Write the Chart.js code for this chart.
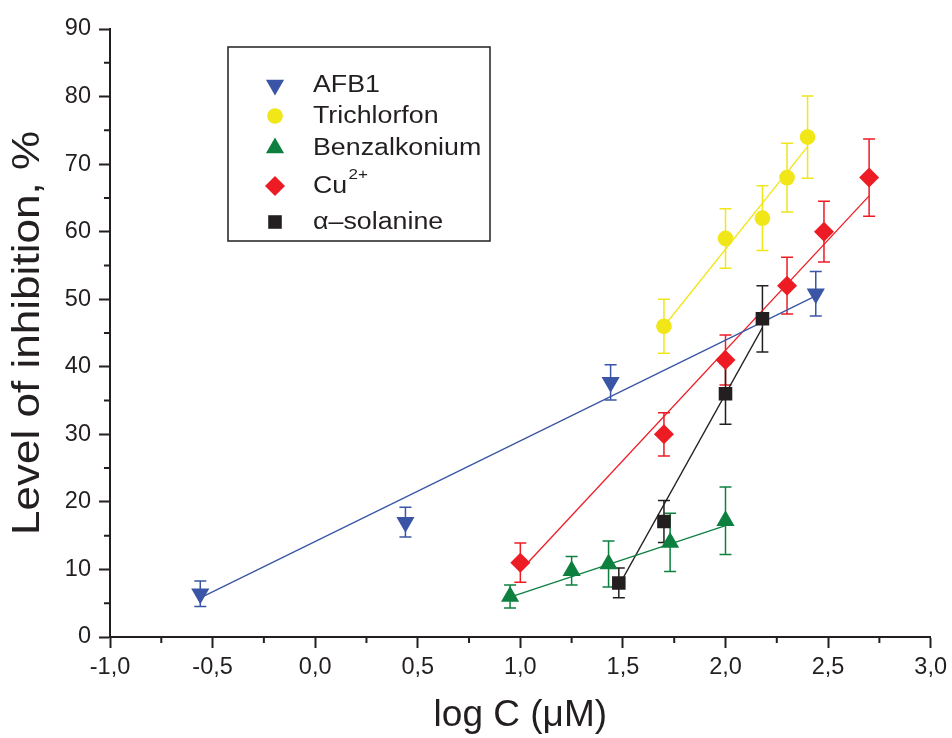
<!DOCTYPE html>
<html>
<head>
<meta charset="utf-8">
<script src="https://cdn.jsdelivr.net/npm/chart.js@4.4.1/dist/chart.umd.min.js"></script>
<style>
  html, body { margin: 0; padding: 0; background: #fff; }
  #wrap { width: 952px; height: 738px; }
</style>
</head>
<body>
<div id="wrap"><canvas id="chart" width="952" height="738"></canvas></div>
<script>
// values: log C (x), inhibition % (y), error (+/-), fit line ends
const afbX = [-0.56, 0.44, 1.44, 2.44];
const afbY = [6.4, 17, 37.7, 50.8];
const afbErr = [1.9, 2.2, 2.6, 3.3];
const afbFit = [5.8, 50.5];

const trichX = [1.70, 2.0, 2.18, 2.30, 2.40];
const trichY = [46, 59, 62, 68, 74];
const trichErr = [4.0, 4.4, 4.8, 5.1, 6.1];
const trichFit = [46.0, 72.6];

const benzX = [0.95, 1.25, 1.43, 1.73, 2.0];
const benzY = [6, 9.8, 10.8, 14, 17.2];
const benzErr = [1.7, 2.1, 3.4, 4.3, 5.0];
const benzFit = [5.9, 16.5];

const cuX = [1.0, 1.70, 2.0, 2.30, 2.48, 2.70];
const cuY = [11, 30, 41, 52, 60, 68];
const cuErr = [2.9, 3.2, 3.7, 4.2, 4.5, 5.7];
const cuFit = [9.8, 65.3];

const solX = [1.48, 1.70, 2.0, 2.18];
const solY = [8, 17.1, 36, 47.1];
const solErr = [2.2, 3.1, 4.5, 4.9];
const solFit = [7.6, 45.8];

const xTicks = [-1, -0.5, 0, 0.5, 1, 1.5, 2, 2.5, 3];
const yTicks = [0, 10, 20, 30, 40, 50, 60, 70, 80, 90];

const xTitle = 'log C (μM)';
const yTitle = 'Level of inhibition, %';

const FONT = "'Liberation Sans', Arial, sans-serif";
const INK = '#231f20';

const series = [
  { label: 'AFB1', x: afbX, y: afbY, err: afbErr, fit: afbFit, color: '#3a55a5', style: 'triangle', rot: 180, r: 10.5 },
  { label: 'Trichlorfon', x: trichX, y: trichY, err: trichErr, fit: trichFit, color: '#f0e618', style: 'circle', rot: 0, r: 7.8 },
  { label: 'Benzalkonium', x: benzX, y: benzY, err: benzErr, fit: benzFit, color: '#0d8040', style: 'triangle', rot: 0, r: 10.5 },
  { label: 'Cu', sup: '2+', x: cuX, y: cuY, err: cuErr, fit: cuFit, color: '#ed1c24', style: 'rectRot', rot: 0, r: 10 },
  { label: 'α–solanine', x: solX, y: solY, err: solErr, fit: solFit, color: INK, style: 'rect', rot: 0, r: 9.6 }
];

const datasets = [];
series.forEach(s => {
  datasets.push({
    label: s.label + ' fit',
    data: [{ x: s.x[0], y: s.fit[0] }, { x: s.x[s.x.length - 1], y: s.fit[1] }],
    showLine: true,
    borderColor: s.color,
    borderWidth: 1.3,
    pointRadius: 0,
    order: 2
  });
  datasets.push({
    label: s.label,
    data: s.x.map((v, i) => ({ x: v, y: s.y[i] })),
    showLine: false,
    pointStyle: s.style,
    pointRotation: s.rot,
    pointRadius: s.r,
    pointBackgroundColor: s.color,
    pointBorderWidth: 0,
    order: 1
  });
});

const errorBars = {
  id: 'errorBars',
  beforeDatasetsDraw(chart) {
    const { ctx, scales: { x, y } } = chart;
    ctx.save();
    ctx.lineWidth = 1.5;
    series.forEach(s => {
      ctx.strokeStyle = s.color;
      s.x.forEach((xv, i) => {
        const px = x.getPixelForValue(xv);
        const top = y.getPixelForValue(s.y[i] + s.err[i]);
        const bot = y.getPixelForValue(s.y[i] - s.err[i]);
        ctx.beginPath();
        ctx.moveTo(px, top); ctx.lineTo(px, bot);
        ctx.moveTo(px - 6, top); ctx.lineTo(px + 6, top);
        ctx.moveTo(px - 6, bot); ctx.lineTo(px + 6, bot);
        ctx.stroke();
      });
    });
    ctx.restore();
  }
};

// short ticks half way between the labelled ones
const minorTicks = {
  id: 'minorTicks',
  afterDraw(chart) {
    const { ctx, scales: { x, y }, chartArea } = chart;
    ctx.save();
    ctx.strokeStyle = INK;
    ctx.lineWidth = 2;
    ctx.beginPath();
    for (let i = 0; i < xTicks.length - 1; i++) {
      const px = x.getPixelForValue((xTicks[i] + xTicks[i + 1]) / 2);
      ctx.moveTo(px, chartArea.bottom); ctx.lineTo(px, chartArea.bottom + 6);
    }
    for (let i = 0; i < yTicks.length - 1; i++) {
      const py = y.getPixelForValue((yTicks[i] + yTicks[i + 1]) / 2);
      ctx.moveTo(chartArea.left, py); ctx.lineTo(chartArea.left - 6, py);
    }
    ctx.stroke();
    ctx.restore();
  }
};

// the y title in the figure is drawn a bit wider along its reading direction
const yAxisTitle = {
  id: 'yAxisTitle',
  afterDraw(chart) {
    const { ctx, chartArea } = chart;
    ctx.save();
    ctx.translate(28, (chartArea.top + chartArea.bottom) / 2);
    ctx.rotate(-Math.PI / 2);
    ctx.scale(1.13, 1);
    ctx.fillStyle = INK;
    ctx.font = '39px ' + FONT;
    ctx.textAlign = 'center';
    ctx.textBaseline = 'middle';
    ctx.fillText(yTitle, 0, 0);
    ctx.restore();
  }
};

const boxLegend = {
  id: 'boxLegend',
  afterDraw(chart) {
    const ctx = chart.ctx;
    const rows = [85, 116, 148, 186, 222];
    ctx.save();
    ctx.strokeStyle = INK;
    ctx.lineWidth = 1.5;
    ctx.strokeRect(228, 47, 262, 194);
    series.forEach((s, i) => {
      ctx.fillStyle = s.color;
      Chart.helpers.drawPoint(ctx, { pointStyle: s.style, rotation: s.rot, radius: s.r, borderWidth: 0 }, 275, rows[i]);
      ctx.save();
      ctx.translate(313, rows[i]);
      ctx.scale(1.14, 1);
      ctx.fillStyle = INK;
      ctx.font = '23.5px ' + FONT;
      ctx.textBaseline = 'middle';
      ctx.textAlign = 'left';
      ctx.fillText(s.label, 0, 1);
      if (s.sup) {
        const w = ctx.measureText(s.label).width;
        ctx.font = '15px ' + FONT;
        ctx.fillText(s.sup, w + 1, -11);
      }
      ctx.restore();
    });
    ctx.restore();
  }
};

new Chart(document.getElementById('chart'), {
  type: 'scatter',
  data: { datasets },
  options: {
    responsive: false,
    animation: false,
    layout: { padding: { top: 29, right: 18, left: 0, bottom: 0 } },
    plugins: { legend: { display: false }, tooltip: { enabled: false } },
    scales: {
      x: {
        type: 'linear',
        min: xTicks[0],
        max: xTicks[xTicks.length - 1],
        afterBuildTicks: s => { s.ticks = xTicks.map(v => ({ value: v })); },
        afterFit: s => { s.height = 101; },
        ticks: {
          callback: v => v.toFixed(1).replace('.', ','),
          font: { size: 23.5, family: FONT },
          color: INK,
          padding: 5,
          maxRotation: 0,
          autoSkip: false
        },
        grid: { drawOnChartArea: false, tickLength: 11, tickWidth: 2, tickColor: INK },
        border: { display: true, width: 2, color: INK },
        title: { display: true, text: xTitle, font: { size: 37, family: FONT }, color: INK, padding: { top: 0, bottom: 0 } }
      },
      y: {
        type: 'linear',
        min: yTicks[0],
        max: yTicks[yTicks.length - 1],
        afterBuildTicks: s => { s.ticks = yTicks.map(v => ({ value: v })); },
        afterFit: s => { s.width = 110; },
        ticks: {
          font: { size: 23.5, family: FONT },
          color: INK,
          padding: 8
        },
        grid: { drawOnChartArea: false, tickLength: 11, tickWidth: 2, tickColor: INK },
        border: { display: true, width: 2, color: INK },
        title: { display: false }
      }
    }
  },
  plugins: [errorBars, minorTicks, yAxisTitle, boxLegend]
});
</script>
</body>
</html>
